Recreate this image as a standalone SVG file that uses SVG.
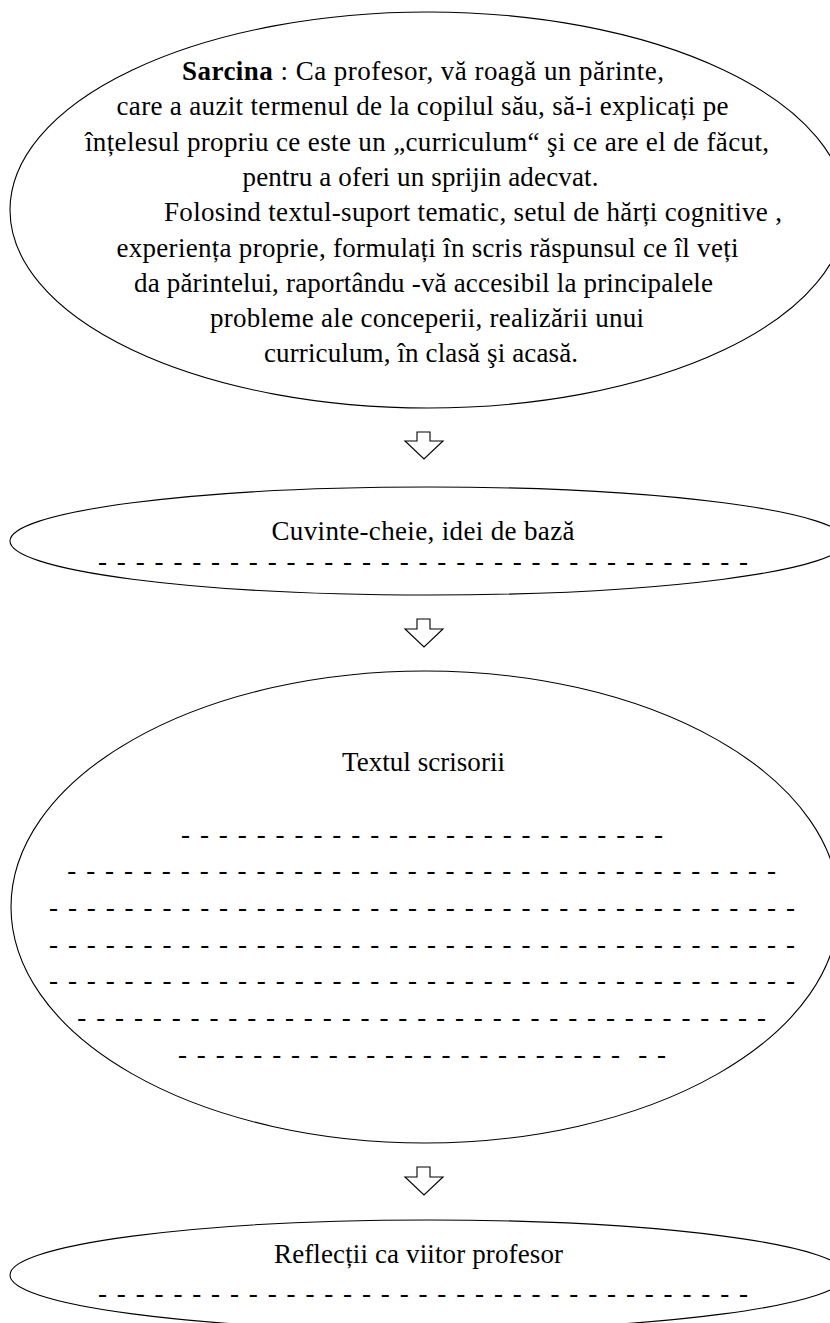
<svg xmlns="http://www.w3.org/2000/svg" width="830" height="1323" viewBox="0 0 830 1323">
<style>
.shape{fill:none;stroke:#000;stroke-width:1.1}
.arrow{fill:#fff;stroke:#000;stroke-width:1.1;stroke-linejoin:miter}
.t{font-family:"Liberation Serif","Times New Roman",serif;font-size:27px;fill:#000}
.b{font-weight:bold}
</style>
<rect x="0" y="0" width="830" height="1323" fill="#fff"/>
<g id="node-task">
<ellipse class="shape" cx="428" cy="210" rx="418" ry="198"/>
<text class="t" x="182" y="80" textLength="482" lengthAdjust="spacing"><tspan class="b">Sarcina</tspan> : Ca profesor, vă roagă un părinte,</text>
<text class="t" x="116.5" y="115.3" textLength="612" lengthAdjust="spacing">care a auzit termenul de la copilul său, să-i explicați pe</text>
<text class="t" x="85" y="150.6" textLength="684" lengthAdjust="spacing">înțelesul propriu ce este un „curriculum“ şi ce are el de făcut,</text>
<text class="t" x="242.5" y="185.9" textLength="356" lengthAdjust="spacing">pentru a oferi un sprijin adecvat.</text>
<text class="t" x="164" y="221.2" textLength="618" lengthAdjust="spacing">Folosind textul-suport tematic, setul de hărți cognitive ,</text>
<text class="t" x="116.5" y="256.5" textLength="622" lengthAdjust="spacing">experiența proprie, formulați în scris răspunsul ce îl veți</text>
<text class="t" x="134" y="291.8" textLength="579" lengthAdjust="spacing">da părintelui, raportându -vă accesibil la principalele</text>
<text class="t" x="210" y="327.1" textLength="434" lengthAdjust="spacing">probleme ale conceperii, realizării unui</text>
<text class="t" x="264" y="362.4" textLength="314" lengthAdjust="spacing">curriculum, în clasă şi acasă.</text>
</g>
<g id="node-keywords">
<ellipse class="shape" cx="428" cy="541" rx="418" ry="54"/>
<text class="t" x="271.5" y="540" textLength="303" lengthAdjust="spacing">Cuvinte-cheie, idei de bază</text>
<text class="t" x="98" y="570" textLength="650" lengthAdjust="spacing">- - - - - - - - - - - - - - - - - - - - - - - - - - - - - - - - - - -</text>
</g>
<g id="node-letter">
<ellipse class="shape" cx="425" cy="907" rx="414" ry="236"/>
<text class="t" x="342" y="771" textLength="163" lengthAdjust="spacing">Textul scrisorii</text>
<text class="t" x="181" y="843" textLength="482" lengthAdjust="spacing">- - - - - - - - - - - - - - - - - - - - - - - - - -</text>
<text class="t" x="67.3" y="879" textLength="708.7" lengthAdjust="spacing">- - - - - - - - - - - - - - - - - - - - - - - - - - - - - - - - - - - - - -</text>
<text class="t" x="49" y="916" textLength="746" lengthAdjust="spacing">- - - - - - - - - - - - - - - - - - - - - - - - - - - - - - - - - - - - - - - -</text>
<text class="t" x="49" y="953" textLength="746" lengthAdjust="spacing">- - - - - - - - - - - - - - - - - - - - - - - - - - - - - - - - - - - - - - - -</text>
<text class="t" x="49" y="989" textLength="746" lengthAdjust="spacing">- - - - - - - - - - - - - - - - - - - - - - - - - - - - - - - - - - - - - - - -</text>
<text class="t" x="77.3" y="1026" textLength="688.7" lengthAdjust="spacing">- - - - - - - - - - - - - - - - - - - - - - - - - - - - - - - - - - - - -</text>
<text class="t" x="178" y="1063" textLength="488" lengthAdjust="spacing" xml:space="preserve">- - - - - - - - - - - - - - - - - - - - - - - -  - -</text>
</g>
<g id="node-reflections">
<ellipse class="shape" cx="428" cy="1275" rx="418" ry="55"/>
<text class="t" x="274" y="1263" textLength="289" lengthAdjust="spacing">Reflecții ca viitor profesor</text>
<text class="t" x="98" y="1302" textLength="650" lengthAdjust="spacing">- - - - - - - - - - - - - - - - - - - - - - - - - - - - - - - - - - -</text>
</g>
<g id="connectors">
<polygon class="arrow" points="417,432 430,432 430,441 443,441 424,459 405,441 417,441"/>
<polygon class="arrow" points="417,619 430,619 430,629 443,629 424,647 405,629 417,629"/>
<polygon class="arrow" points="417,1167 430,1167 430,1177 443,1177 424,1195 405,1177 417,1177"/>
</g>
</svg>
